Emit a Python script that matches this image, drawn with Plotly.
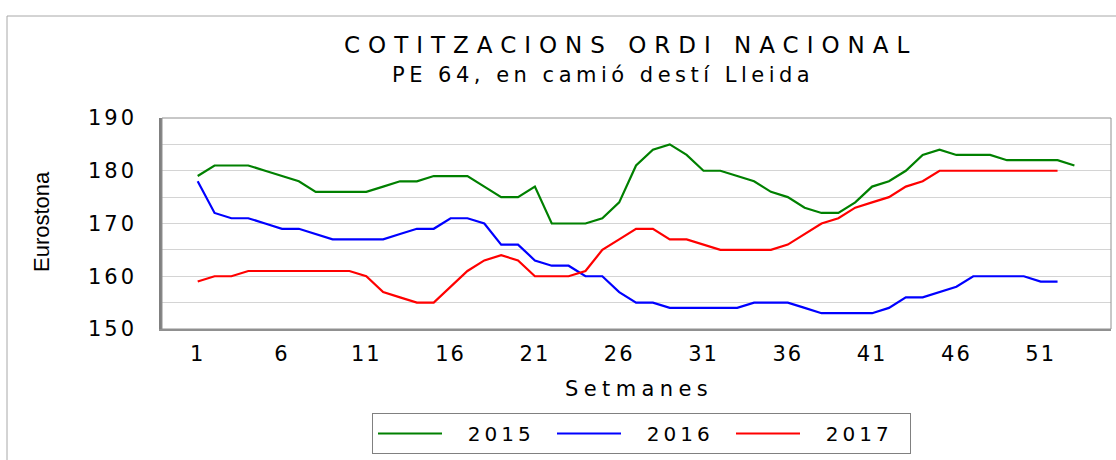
import plotly.graph_objects as go

# ---------------- data ----------------
weeks_2015 = list(range(1, 54))
weeks_2016 = list(range(1, 53))
weeks_2017 = list(range(1, 53))

v2015 = [179, 181, 181, 181, 180, 179, 178, 176, 176, 176,
         176, 177, 178, 178, 179, 179, 179, 177, 175, 175,
         177, 170, 170, 170, 171, 174, 181, 184, 185, 183,
         180, 180, 179, 178, 176, 175, 173, 172, 172, 174,
         177, 178, 180, 183, 184, 183, 183, 183, 182, 182,
         182, 182, 181]
v2016 = [178, 172, 171, 171, 170, 169, 169, 168, 167, 167,
         167, 167, 168, 169, 169, 171, 171, 170, 166, 166,
         163, 162, 162, 160, 160, 157, 155, 155, 154, 154,
         154, 154, 154, 155, 155, 155, 154, 153, 153, 153,
         153, 154, 156, 156, 157, 158, 160, 160, 160, 160,
         159, 159]
v2017 = [159, 160, 160, 161, 161, 161, 161, 161, 161, 161,
         160, 157, 156, 155, 155, 158, 161, 163, 164, 163,
         160, 160, 160, 161, 165, 167, 169, 169, 167, 167,
         166, 165, 165, 165, 165, 166, 168, 170, 171, 173,
         174, 175, 177, 178, 180, 180, 180, 180, 180, 180,
         180, 180]

series_names = ["2015", "2016", "2017"]
series_colors = ["#008000", "#0000FF", "#FF0000"]
x_tick_vals = [1, 6, 11, 16, 21, 26, 31, 36, 41, 46, 51]
y_tick_vals = [150, 160, 170, 180, 190]

title_line1 = "COTITZACIONS ORDI NACIONAL"
title_line2 = "PE 64, en camió destí Lleida"
x_title = "Setmanes"
y_title = "Eurostona"

FONT = "DejaVu Sans"


def spaced(text, ls):
    return "<span style='letter-spacing:%spx'>%s</span>" % (ls, text)


# ---------------- geometry ----------------
W, H = 1116, 460
L, R, T, B = 162, 1111, 118, 329


def px_x(px):
    return (px - L) / (R - L)


def px_y(py):
    return (B - py) / (B - T)


fig = go.Figure()
for xs, ys, name, col in zip([weeks_2015, weeks_2016, weeks_2017],
                             [v2015, v2016, v2017],
                             series_names, series_colors):
    fig.add_trace(go.Scatter(x=xs, y=ys, mode="lines",
                             name=spaced("\u00a0\u00a0" + name, 4),
                             line=dict(color=col, width=2.2)))

fig.update_layout(
    width=W, height=H, autosize=False,
    margin=dict(l=L, r=W - R, t=T, b=H - B, pad=0),
    plot_bgcolor="white", paper_bgcolor="white",
    font=dict(family=FONT, color="black"),
    showlegend=True,
    legend=dict(orientation="h", x=px_x(372), y=px_y(413),
                xanchor="left", yanchor="top",
                bordercolor="#808080", borderwidth=1,
                font=dict(family=FONT, size=20, color="black"),
                itemwidth=64, entrywidth=100, entrywidthmode="pixels",
                bgcolor="white"),
)

fig.update_xaxes(
    range=[-1.117, 55.17], automargin=False,
    tickmode="array", tickvals=x_tick_vals,
    ticktext=[spaced(str(v), 2) for v in x_tick_vals],
    tickfont=dict(family=FONT, size=21, color="black"),
    ticks="", showgrid=False, zeroline=False,
    showline=True, linecolor="#909090", linewidth=2,
    ticklabelstandoff=5,
)
fig.update_yaxes(
    range=[150, 190], automargin=False,
    tickmode="array", tickvals=y_tick_vals,
    ticktext=[spaced(str(v), 3) for v in y_tick_vals],
    tickfont=dict(family=FONT, size=21, color="black"),
    ticks="", showgrid=True, gridcolor="#d4d4d4", gridwidth=1,
    minor=dict(tickmode="linear", tick0=150, dtick=5, showgrid=True,
               gridcolor="#d4d4d4", gridwidth=1),
    zeroline=False,
    showline=True, linecolor="#808080", linewidth=2.5,
    ticklabelstandoff=18,
)

# plot-area frame
fig.add_shape(type="rect", xref="paper", yref="paper", x0=0, x1=1, y0=0, y1=1,
              line=dict(color="#909090", width=1), layer="above")
# outer chart frame (partially cropped in the reference)
fig.add_shape(type="rect", xref="paper", yref="paper",
              x0=px_x(7), x1=px_x(1140), y0=px_y(490), y1=px_y(16),
              line=dict(color="#a8a8a8", width=1), layer="below")

fig.add_annotation(text=spaced(title_line1, 8), xref="paper", yref="paper",
                   x=px_x(630), y=px_y(45), xanchor="center", yanchor="middle",
                   showarrow=False, font=dict(family=FONT, size=23, color="black"))
fig.add_annotation(text=spaced(title_line2, 4.5), xref="paper", yref="paper",
                   x=px_x(603), y=px_y(75), xanchor="center", yanchor="middle",
                   showarrow=False, font=dict(family=FONT, size=21, color="black"))
fig.add_annotation(text=spaced(x_title, 5.4), xref="paper", yref="paper",
                   x=px_x(639), y=px_y(389), xanchor="center", yanchor="middle",
                   showarrow=False, font=dict(family=FONT, size=21, color="black"))
fig.add_annotation(text=y_title, xref="paper", yref="paper",
                   x=px_x(41), y=px_y(222), xanchor="center", yanchor="middle",
                   textangle=-90, showarrow=False,
                   font=dict(family="Liberation Sans", size=22, color="black"))

fig.write_html("out.html",
               config={"displayModeBar": False},
               post_script="document.body.style.margin='0';"
                           "document.body.style.padding='0';")
